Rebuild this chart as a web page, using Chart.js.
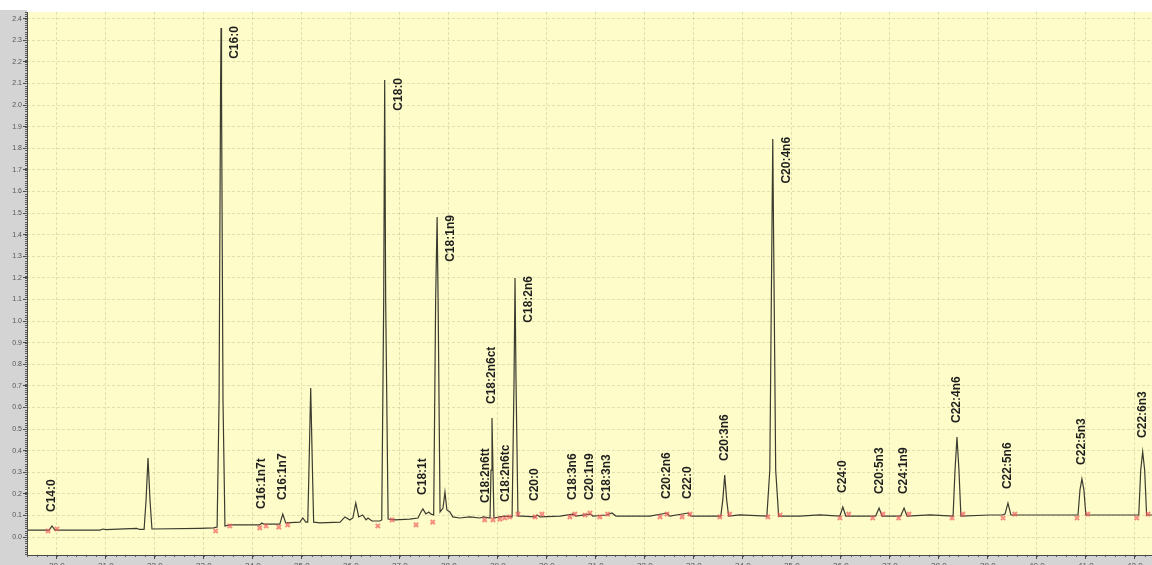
<!DOCTYPE html>
<html>
<head>
<meta charset="utf-8">
<script src="https://cdn.jsdelivr.net/npm/chart.js@4.4.1/dist/chart.umd.min.js"></script>
<style>
  html, body { margin: 0; padding: 0; overflow: hidden; background: #fff; }
  #wrap { position: relative; width: 1152px; height: 572px; }
</style>
</head>
<body>
<div id="wrap"><canvas id="gc" width="1152" height="572"></canvas></div>
<script>
// FAME chromatogram: detector signal vs. retention time
const traceTime = [
  19.39, 19.84, 19.90, 19.96, 20.88, 20.94, 21.00, 21.63, 21.69, 21.78,
  21.82, 21.86, 21.90, 21.94, 22.92, 23.20, 23.27, 23.31, 23.34, 23.35,
  23.36, 23.39, 23.43, 23.53, 24.14, 24.18, 24.22, 24.55, 24.61, 24.67,
  24.96, 25.02, 25.08, 25.12, 25.14, 25.18, 25.22, 25.24, 25.37, 25.78,
  25.88, 25.98, 26.04, 26.10, 26.16, 26.24, 26.31, 26.35, 26.43, 26.59,
  26.63, 26.67, 26.69, 26.71, 26.76, 26.90, 27.20, 27.37, 27.43, 27.47,
  27.53, 27.59, 27.63, 27.69, 27.73, 27.76, 27.78, 27.82, 27.88, 27.92,
  27.96, 28.02, 28.08, 28.22, 28.43, 28.63, 28.71, 28.84, 28.86, 28.88,
  28.90, 28.92, 29.04, 29.14, 29.29, 29.33, 29.35, 29.37, 29.41, 29.49,
  29.76, 29.80, 29.86, 30.27, 30.53, 30.59, 30.88, 30.94, 31.22, 31.33,
  31.41, 32.10, 32.45, 32.51, 32.88, 32.94, 33.12, 33.55, 33.59, 33.63,
  33.67, 33.71, 33.94, 34.49, 34.55, 34.59, 34.61, 34.63, 34.67, 34.73,
  35.16, 35.57, 35.98, 36.04, 36.10, 36.71, 36.78, 36.84, 37.22, 37.29,
  37.35, 37.82, 38.29, 38.33, 38.37, 38.41, 38.45, 39.04, 39.29, 39.35,
  39.41, 39.47, 40.06, 40.84, 40.88, 40.92, 40.96, 41.00, 41.49, 42.08,
  42.12, 42.16, 42.20, 42.24, 42.35
];
const traceSignal = [
  0.032, 0.032, 0.051, 0.032, 0.032, 0.037, 0.034, 0.040, 0.035, 0.035,
  0.171, 0.366, 0.171, 0.037, 0.040, 0.042, 0.046, 0.634, 2.050, 2.356,
  2.050, 0.634, 0.051, 0.056, 0.056, 0.065, 0.060, 0.060, 0.106, 0.065,
  0.069, 0.088, 0.069, 0.069, 0.264, 0.690, 0.264, 0.069, 0.065, 0.069,
  0.093, 0.079, 0.088, 0.157, 0.093, 0.102, 0.079, 0.088, 0.074, 0.074,
  0.079, 1.097, 2.116, 1.097, 0.083, 0.079, 0.083, 0.088, 0.116, 0.130,
  0.107, 0.116, 0.107, 0.102, 1.097, 1.481, 1.097, 0.116, 0.134, 0.208,
  0.125, 0.116, 0.093, 0.088, 0.093, 0.088, 0.093, 0.088, 0.310, 0.551,
  0.310, 0.088, 0.093, 0.097, 0.093, 0.727, 1.199, 0.727, 0.097, 0.097,
  0.093, 0.102, 0.093, 0.097, 0.106, 0.097, 0.106, 0.097, 0.102, 0.111,
  0.097, 0.097, 0.111, 0.097, 0.111, 0.097, 0.097, 0.097, 0.171, 0.287,
  0.171, 0.097, 0.102, 0.097, 0.310, 1.329, 1.843, 1.329, 0.310, 0.097,
  0.097, 0.102, 0.097, 0.139, 0.097, 0.097, 0.134, 0.097, 0.097, 0.134,
  0.097, 0.102, 0.097, 0.310, 0.463, 0.310, 0.097, 0.102, 0.102, 0.106,
  0.157, 0.102, 0.102, 0.102, 0.218, 0.269, 0.218, 0.102, 0.102, 0.102,
  0.310, 0.394, 0.310, 0.102, 0.102
];

// integration start / end marks
const markTime = [
  19.82, 20.00, 23.24, 23.53, 24.14, 24.27, 24.53, 24.71, 26.55, 26.84,
  27.33, 27.67, 28.73, 28.90, 29.04, 29.14, 29.24, 29.41, 29.76, 29.90,
  30.47, 30.57, 30.78, 30.88, 31.08, 31.24, 32.31, 32.45, 32.76, 32.92,
  33.53, 33.73, 34.51, 34.76, 35.98, 36.16, 36.65, 36.86, 37.18, 37.39,
  38.27, 38.49, 39.31, 39.55, 40.82, 41.04, 42.04, 42.27
];
const markSignal = [
  0.028, 0.037, 0.028, 0.051, 0.042, 0.051, 0.046, 0.056, 0.051, 0.079,
  0.056, 0.069, 0.079, 0.079, 0.083, 0.088, 0.093, 0.106, 0.093, 0.106,
  0.093, 0.106, 0.102, 0.111, 0.093, 0.106, 0.093, 0.106, 0.093, 0.106,
  0.093, 0.106, 0.093, 0.102, 0.088, 0.106, 0.088, 0.106, 0.088, 0.106,
  0.088, 0.106, 0.088, 0.106, 0.088, 0.106, 0.088, 0.106
];

// identified peaks
const peakNames = [
  'C14:0', 'C16:0', 'C16:1n7t', 'C16:1n7', 'C18:0', 'C18:1t', 'C18:1n9',
  'C18:2n6tt', 'C18:2n6ct', 'C18:2n6tc', 'C18:2n6', 'C20:0', 'C18:3n6',
  'C20:1n9', 'C18:3n3', 'C20:2n6', 'C22:0', 'C20:3n6', 'C20:4n6', 'C24:0',
  'C20:5n3', 'C24:1n9', 'C22:4n6', 'C22:5n6', 'C22:5n3', 'C22:6n3'
];
const peakTimes = [
  19.90, 23.35, 24.18, 24.61, 26.69, 27.47, 27.76,
  28.76, 28.88, 29.16, 29.35, 29.76, 30.53,
  30.88, 31.22, 32.45, 32.88, 33.63, 34.61, 36.04,
  36.80, 37.29, 38.37, 39.41, 40.92, 42.16
];
const peakHeights = [
  0.051, 2.356, 0.065, 0.106, 2.116, 0.130, 1.481,
  0.093, 0.551, 0.097, 1.199, 0.102, 0.106,
  0.106, 0.102, 0.111, 0.111, 0.287, 1.843, 0.139,
  0.134, 0.134, 0.463, 0.157, 0.269, 0.394
];

const timeRange = [19.39, 42.35];
const signalRange = [-0.0833, 2.4306];

const tracePoints = traceTime.map((t, i) => ({ x: t, y: traceSignal[i] }));
const markPoints = markTime.map((t, i) => ({ x: t, y: markSignal[i] }));

// panel background, axis strips and minor ticks
const framePlugin = {
  id: 'frame',
  beforeDraw(chart) {
    const { ctx, chartArea: a, width, height } = chart;
    ctx.save();
    ctx.fillStyle = '#ffffff';
    ctx.fillRect(0, 0, width, height);
    ctx.fillStyle = '#d4d4d4';
    ctx.fillRect(0, a.top - 2, a.left, height - a.top + 2);
    ctx.fillRect(0, a.bottom, width, height - a.bottom);
    ctx.fillStyle = '#fefdc9';
    ctx.fillRect(a.left, a.top, a.right - a.left, a.bottom - a.top);
    ctx.restore();
  },
  afterDraw(chart) {
    const { ctx, chartArea: a } = chart;
    const xs = chart.scales.x, ys = chart.scales.y;
    ctx.save();
    ctx.strokeStyle = '#5a5a5a';
    ctx.lineWidth = 1;
    ctx.beginPath();
    for (let i = -8; i <= 243; i++) {
      const py = Math.round(ys.getPixelForValue(i / 100)) + 0.5;
      if (py < a.top || py > a.bottom) continue;
      ctx.moveTo(a.left - 2, py);
      ctx.lineTo(a.left, py);
    }
    for (let i = 97; i <= 212; i++) {
      const px = Math.round(xs.getPixelForValue(i / 5)) + 0.5;
      if (px < a.left || px > a.right) continue;
      ctx.moveTo(px, a.bottom);
      ctx.lineTo(px, a.bottom + 2);
    }
    ctx.stroke();
    ctx.strokeStyle = '#4a4a4a';
    ctx.beginPath();
    ctx.moveTo(a.left + 0.5, a.top);
    ctx.lineTo(a.left + 0.5, a.bottom);
    ctx.moveTo(a.left, a.bottom + 0.5);
    ctx.lineTo(a.right, a.bottom + 0.5);
    ctx.stroke();
    ctx.restore();
  }
};

// vertical peak names; tall peaks get the name beside the apex
const peakLabelPlugin = {
  id: 'peakLabels',
  afterDatasetsDraw(chart) {
    const { ctx } = chart;
    const xs = chart.scales.x, ys = chart.scales.y;
    ctx.save();
    ctx.font = 'bold 12px "Liberation Sans", Arial, sans-serif';
    ctx.fillStyle = '#1e1e1e';
    ctx.textBaseline = 'middle';
    peakNames.forEach((name, i) => {
      const px = xs.getPixelForValue(peakTimes[i]);
      const py = ys.getPixelForValue(peakHeights[i]);
      ctx.save();
      if (peakHeights[i] > 1.0) {
        ctx.translate(px + 14, py - 2);
        ctx.rotate(-Math.PI / 2);
        ctx.textAlign = 'right';
      } else {
        ctx.translate(px, py - 14);
        ctx.rotate(-Math.PI / 2);
        ctx.textAlign = 'left';
      }
      ctx.fillText(name, 0, 0);
      ctx.restore();
    });
    ctx.restore();
  }
};

new Chart(document.getElementById('gc'), {
  type: 'line',
  data: {
    datasets: [
      {
        data: markPoints,
        showLine: false,
        order: 0,
        pointStyle: 'crossRot',
        pointRadius: 3,
        pointBorderWidth: 2,
        pointBorderColor: 'rgba(240, 95, 95, 0.7)',
        pointBackgroundColor: 'rgba(240, 95, 95, 0.7)'
      },
      {
        data: tracePoints,
        order: 1,
        borderColor: '#3b3b30',
        borderWidth: 1.2,
        pointRadius: 0,
        tension: 0,
        fill: false
      }
    ]
  },
  options: {
    responsive: false,
    animation: false,
    events: [],
    layout: { autoPadding: false, padding: { top: 12, left: 0, right: 0, bottom: 0 } },
    plugins: { legend: { display: false }, tooltip: { enabled: false } },
    scales: {
      x: {
        type: 'linear',
        min: timeRange[0],
        max: timeRange[1],
        afterFit(s) { s.height = 17; },
        grid: {
          color: 'rgba(160, 160, 120, 0.3)',
          lineWidth: 1,
          tickLength: 4,
          tickColor: '#4a4a4a'
        },
        border: { display: false, dash: [3, 2] },
        ticks: {
          stepSize: 1,
          includeBounds: false,
          maxRotation: 0,
          autoSkip: false,
          padding: 2,
          color: '#555555',
          font: { family: '"Liberation Sans", Arial, sans-serif', size: 8 },
          callback: v => Number(v).toFixed(1)
        }
      },
      y: {
        type: 'linear',
        min: signalRange[0],
        max: signalRange[1],
        afterFit(s) { s.width = 27; },
        grid: {
          color: 'rgba(160, 160, 120, 0.3)',
          lineWidth: 1,
          tickLength: 4,
          tickColor: '#4a4a4a'
        },
        border: { display: false, dash: [3, 2] },
        ticks: {
          stepSize: 0.1,
          includeBounds: false,
          autoSkip: false,
          padding: 1,
          color: '#555555',
          font: { family: '"Liberation Sans", Arial, sans-serif', size: 7 },
          callback: v => Number(v).toFixed(1)
        }
      }
    }
  },
  plugins: [framePlugin, peakLabelPlugin]
});
</script>
</body>
</html>
